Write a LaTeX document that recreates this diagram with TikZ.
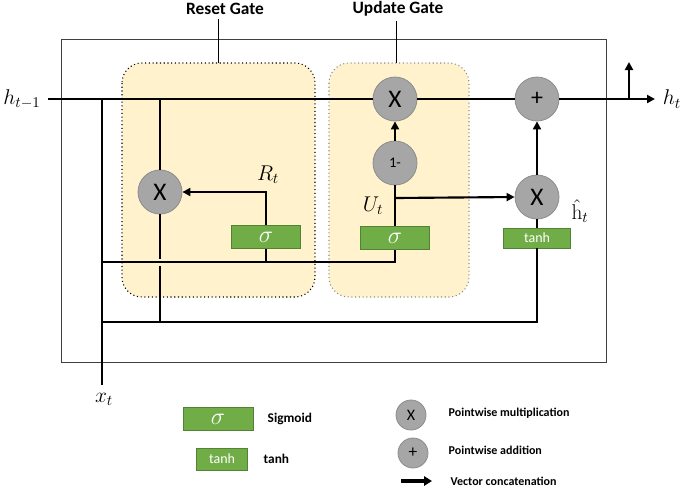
\RequirePackage{fix-cm}
\documentclass[tikz,border=0pt]{standalone}
\usepackage{fontspec}
\setmainfont{Carlito}
\setmathrm{Latin Modern Roman}
\usetikzlibrary{arrows.meta}
\definecolor{gateyellow}{HTML}{FFF2CC}
\definecolor{opgray}{HTML}{A6A6A6}
\definecolor{opedge}{HTML}{8C8C8C}
\definecolor{actgreen}{HTML}{70AD47}
\definecolor{actedge}{HTML}{548235}

\begin{document}
\begin{tikzpicture}[x=0.75pt,y=-0.75pt,
    flow/.style={line width=1.6pt},
    arr/.style={flow,-{Triangle[length=6pt,width=6pt]}},
    op/.style={circle,fill=opgray,draw=opedge,line width=0.6pt,minimum size=33pt,inner sep=0pt,font=\fontsize{19}{19}\selectfont},
    act/.style={fill=actgreen,draw=actedge,line width=0.6pt,text=white,inner sep=0pt,minimum width=52pt,minimum height=17pt,font=\fontsize{18}{18}\selectfont},
    gatebox/.style={fill=gateyellow,dotted,line width=0.8pt,rounded corners=15pt},
    lbl/.style={font=\fontsize{16}{16}\selectfont},
    title/.style={font=\fontsize{13}{13}\selectfont\bfseries},
    legend/.style={anchor=west,font=\fontsize{9}{9}\selectfont\bfseries}
]
\useasboundingbox (0,0) rectangle (685,487);

% cell frame and gates
\draw[line width=0.6pt,black!75] (61,39) rectangle (606,362);
\draw[gatebox,draw=black] (122,63) rectangle (315,297);
\draw[gatebox,draw=black!45] (329,63) rectangle (469,297);
\node[title] (rtitle) at (225,9) {Reset Gate};
\node[title] (utitle) at (398,9) {Update Gate};
\coordinate (rtop) at (218,63);
\coordinate (utop) at (396,63);
\draw[line width=0.5pt] (rtitle.south -| rtop) -- (rtop);
\draw[line width=0.5pt] (utitle.south -| utop) -- (utop);

% operations
\node[op] (mulz) at (395,99) {X};
\node[op,font=\fontsize{18}{18}\selectfont] (add) at (537,99) {+};
\node[op,font=\fontsize{11}{11}\selectfont] (one) at (395,163) {1-};
\node[op] (mulr) at (160,192) {X};
\node[op] (mulh) at (537,197) {X};
\node[act] (sigr) at (266,237) {$\sigma$};
\node[act] (sigz) at (395,238) {$\sigma$};
\node[act,minimum width=50pt,minimum height=15pt,font=\fontsize{10.5}{10.5}\selectfont] (tanh) at (537,238) {tanh};

% labels
\node[lbl] (hprev) at (22,99) {$h_{t-1}$};
\node[lbl] (hnext) at (672,99) {$h_t$};
\node[lbl] (xt) at (104,399) {$x_t$};
\node[lbl] (rt) at (268,175) {$R_t$};
\node[lbl] (ut) at (373,206) {$U_t$};
\node[lbl,inner sep=0pt] (hcand) at (580,211) {$\hat{\mathrm{h}}_t$};

% junctions
\coordinate (hin) at (48,99);
\coordinate (hout) at (655,99);
\coordinate (tapx) at (102,99);
\coordinate (taph) at (160,99);
\coordinate (xend) at (102,385);
\coordinate (outup) at (629,99);
\coordinate (outtip) at (629,62);
\coordinate (gapa) at (160,259);
\coordinate (gapb) at (160,266);
\coordinate (low) at (102,262);
\coordinate (base) at (102,322);
\coordinate (ubranch) at (395,198);

% hidden state path
\draw[flow] (hin) -- (mulz.west);
\draw[flow] (mulz.east) -- (add.west);
\draw[arr] (add.east) -- (hout);
\draw[arr] (outup) -- (outtip);
\draw[flow] (tapx) -- (xend);
\draw[flow] (taph) -- (mulr.north);
\draw[flow] (mulr.south) -- (gapa);
\draw[flow] (gapb) -- (gapb |- base);

% gates
\draw[arr] (sigr.north) |- (mulr.east);
\draw[flow] (sigr.south) -- (sigr.south |- low);
\draw[flow] (low) -| (sigz.south);
\draw[flow] (sigz.north) -- (one.south);
\draw[arr] (one.north) -- (mulz.south);
\draw[arr] (ubranch) -- (mulh.west);
\draw[arr] (mulh.north) -- (add.south);
\draw[flow] (tanh.north) -- (mulh.south);
\draw[flow] (base) -| (tanh.south);

% legend
\node[act,minimum width=52.5pt] (lsig) at (218,419) {$\sigma$};
\node[legend,font=\fontsize{10}{10}\selectfont\bfseries] (lsigtxt) at (263,419) {Sigmoid};
\node[act,minimum width=38pt,minimum height=16.5pt,font=\fontsize{10.5}{10.5}\selectfont] (ltanh) at (222,459) {tanh};
\node[legend,font=\fontsize{10}{10}\selectfont\bfseries] (ltanhtxt) at (259,459) {tanh};
\node[op,minimum size=22.5pt,font=\fontsize{12}{12}\selectfont] (lmul) at (411,415) {X};
\node[legend] (lmultxt) at (444,413) {Pointwise multiplication};
\node[op,minimum size=22.5pt,font=\fontsize{13}{13}\selectfont] (ladd) at (413,453) {+};
\node[legend] (laddtxt) at (444,450) {Pointwise addition};
\coordinate (lcat) at (401,481);
\node[legend] (lcattxt) at (446,481) {Vector concatenation};
\draw[line width=2.4pt,-{Triangle[length=6pt,width=7pt]}] (lcat) -- ++(31,0);
\end{tikzpicture}
\end{document}
